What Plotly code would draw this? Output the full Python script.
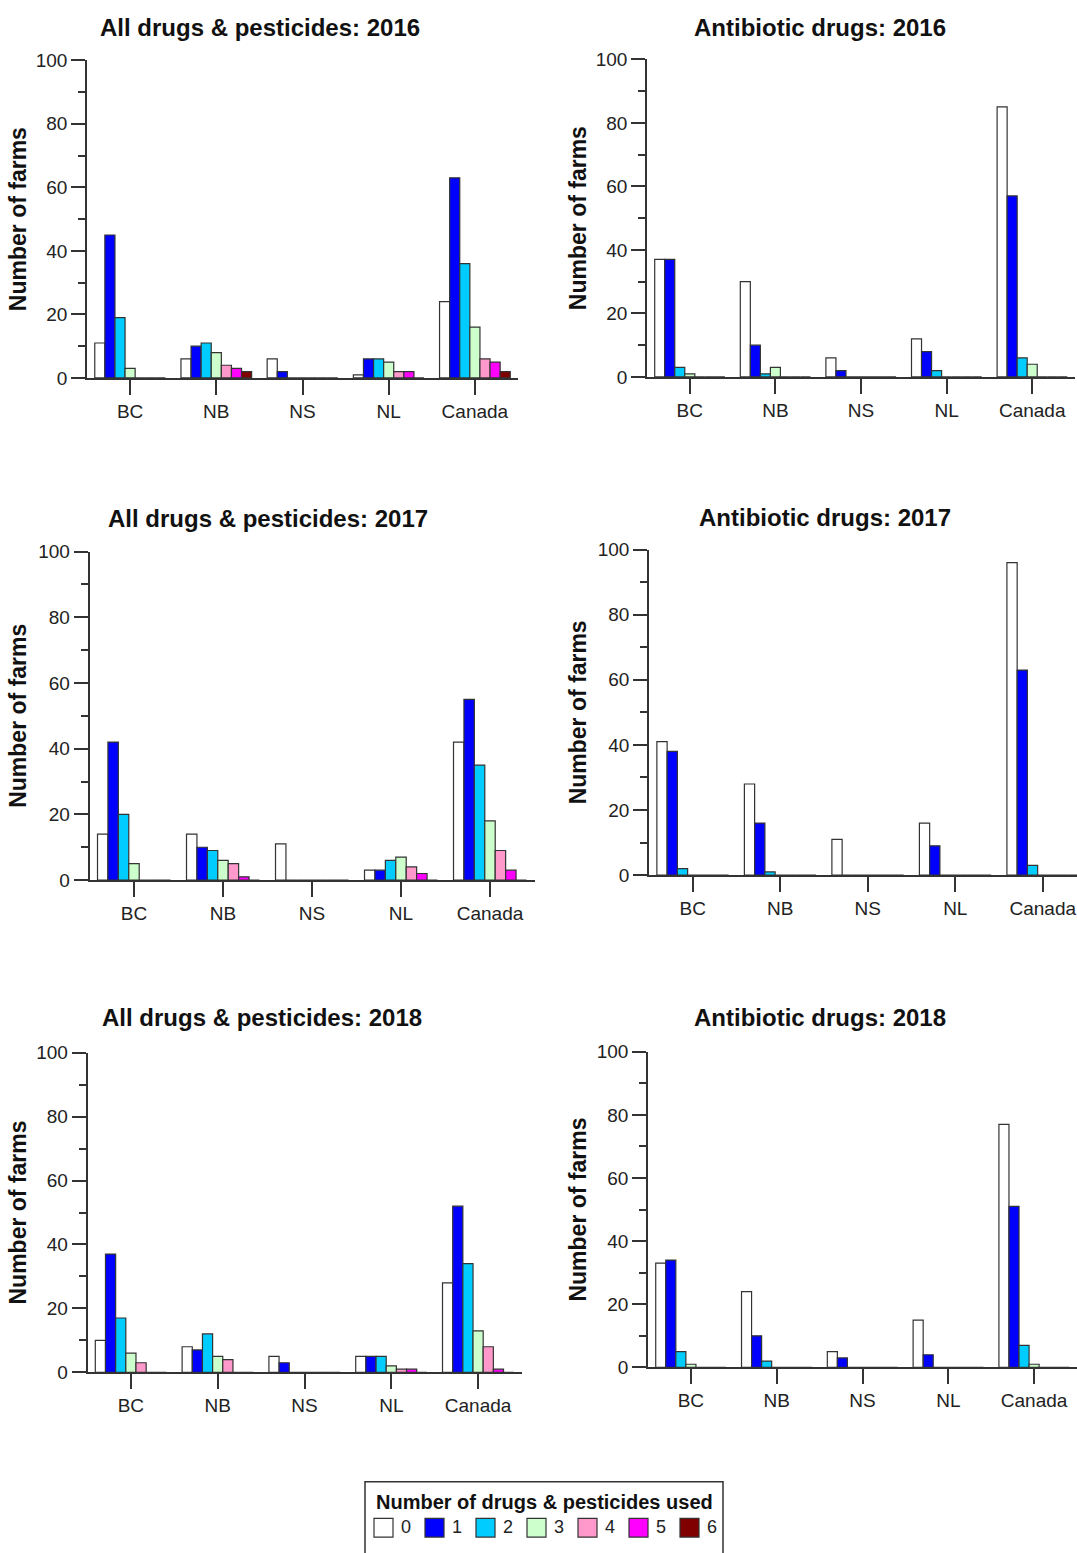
import plotly.graph_objects as go

# ---------------- data ----------------
regions = ["BC", "NB", "NS", "NL", "Canada"]
n_used = ["0", "1", "2", "3", "4", "5", "6"]
colors = ["#FFFFFF", "#0000FF", "#00CCFF", "#CCFFCC", "#FF99CC", "#FF00FF", "#800000"]

# rows = number of drugs & pesticides used (0..6); columns = regions
all_2016 = [[11, 6, 6, 1, 24], [45, 10, 2, 6, 63], [19, 11, 0, 6, 36], [3, 8, 0, 5, 16],
            [0, 4, 0, 2, 6], [0, 3, 0, 2, 5], [0, 2, 0, 0, 2]]
anti_2016 = [[37, 30, 6, 12, 85], [37, 10, 2, 8, 57], [3, 1, 0, 2, 6], [1, 3, 0, 0, 4],
             [0, 0, 0, 0, 0], [0, 0, 0, 0, 0], [0, 0, 0, 0, 0]]
all_2017 = [[14, 14, 11, 3, 42], [42, 10, 0, 3, 55], [20, 9, 0, 6, 35], [5, 6, 0, 7, 18],
            [0, 5, 0, 4, 9], [0, 1, 0, 2, 3], [0, 0, 0, 0, 0]]
anti_2017 = [[41, 28, 11, 16, 96], [38, 16, 0, 9, 63], [2, 1, 0, 0, 3], [0, 0, 0, 0, 0],
             [0, 0, 0, 0, 0], [0, 0, 0, 0, 0], [0, 0, 0, 0, 0]]
all_2018 = [[10, 8, 5, 5, 28], [37, 7, 3, 5, 52], [17, 12, 0, 5, 34], [6, 5, 0, 2, 13],
            [3, 4, 0, 1, 8], [0, 0, 0, 1, 1], [0, 0, 0, 0, 0]]
anti_2018 = [[33, 24, 5, 15, 77], [34, 10, 3, 4, 51], [5, 2, 0, 0, 7], [1, 0, 0, 0, 1],
             [0, 0, 0, 0, 0], [0, 0, 0, 0, 0], [0, 0, 0, 0, 0]]

titles = ["All drugs & pesticides: 2016", "Antibiotic drugs: 2016",
          "All drugs & pesticides: 2017", "Antibiotic drugs: 2017",
          "All drugs & pesticides: 2018", "Antibiotic drugs: 2018"]
y_title = "Number of farms"
legend_title = "Number of drugs & pesticides used"

# ---------------- layout geometry (pixels) ----------------
W, H = 1077, 1553
FONT = "Liberation Sans, Arial, sans-serif"
panels = [
    # x-domain px, y-domain px (top, bottom), x range, title centre (x, y), y-title x
    dict(data=all_2016, xd=(87, 518), yd=(51, 373), xr=(-0.5, 4.5), tc=(260, 18), ytx=18),
    dict(data=anti_2016, xd=(647, 1075), yd=(50, 372), xr=(-0.5, 4.5), tc=(820, 18), ytx=578),
    dict(data=all_2017, xd=(89.5, 534.5), yd=(549, 882), xr=(-0.5, 4.5), tc=(268, 515), ytx=18),
    dict(data=anti_2017, xd=(649, 1077), yd=(547, 877), xr=(-0.5, 4.391), tc=(825, 514), ytx=578),
    dict(data=all_2018, xd=(87.5, 521.5), yd=(1057, 1381), xr=(-0.5, 4.5), tc=(262, 1021), ytx=18),
    dict(data=anti_2018, xd=(648, 1077), yd=(1056, 1376), xr=(-0.5, 4.5), tc=(820, 1021), ytx=578),
]


def px_x(v):
    return v / W


def px_y(v):
    return 1 - v / H


fig = go.Figure()
annotations = []
shapes = []

for p_i, p in enumerate(panels):
    k = "" if p_i == 0 else str(p_i + 1)
    for s_i, name in enumerate(n_used):
        fig.add_trace(go.Bar(
            x=regions, y=p["data"][s_i], name=name,
            marker=dict(color=colors[s_i], line=dict(color="#333333", width=1.2)),
            xaxis="x" + k, yaxis="y" + k, showlegend=False, hoverinfo="x+y+name",
        ))
    fig.update_layout(**{
        "xaxis" + k: dict(
            domain=[px_x(p["xd"][0]), px_x(p["xd"][1])], anchor="y" + k,
            range=list(p["xr"]), type="category", showgrid=False, zeroline=False,
            showline=True, linecolor="#333333", linewidth=1.5,
            ticks="outside", ticklen=15, tickwidth=1.5, tickcolor="#333333",
            tickfont=dict(family=FONT, size=19, color="#222222"),
            ticklabelstandoff=0, fixedrange=True,
        ),
        "yaxis" + k: dict(
            domain=[px_y(p["yd"][1]), px_y(p["yd"][0])], anchor="x" + k,
            range=[0, 100], showgrid=False, zeroline=False,
            showline=True, linecolor="#333333", linewidth=1.5,
            tickmode="linear", tick0=0, dtick=20,
            ticks="outside", ticklen=14, tickwidth=1.5, tickcolor="#333333",
            minor=dict(dtick=10, ticks="outside", ticklen=7, tickwidth=1.5,
                       tickcolor="#333333", showgrid=False),
            tickfont=dict(family=FONT, size=19, color="#222222"),
            ticklabelstandoff=0, fixedrange=True,
        ),
    })
    annotations.append(dict(
        text="<b>%s</b>" % titles[p_i], x=px_x(p["tc"][0]), y=px_y(p["tc"][1]),
        xref="paper", yref="paper", xanchor="center", yanchor="middle",
        showarrow=False, font=dict(family=FONT, size=24, color="#111111"),
    ))
    annotations.append(dict(
        text="<b>%s</b>" % y_title, x=px_x(p["ytx"]), y=px_y((p["yd"][0] + p["yd"][1]) / 2),
        xref="paper", yref="paper", xanchor="center", yanchor="middle", textangle=-90,
        showarrow=False, font=dict(family=FONT, size=23, color="#111111"),
    ))

# ---------------- legend (drawn as layout decoration) ----------------
shapes.append(dict(type="rect", xref="paper", yref="paper",
                   x0=px_x(365), x1=px_x(723), y0=px_y(1565), y1=px_y(1492),
                   line=dict(color="#333333", width=1.5), fillcolor="rgba(0,0,0,0)"))
annotations.append(dict(
    text="<b>%s</b>" % legend_title, x=px_x(544), y=px_y(1512), xref="paper", yref="paper",
    xanchor="center", yanchor="middle", showarrow=False,
    font=dict(family=FONT, size=20, color="#111111"),
))
for s_i, name in enumerate(n_used):
    left = 374 + 51 * s_i
    shapes.append(dict(type="rect", xref="paper", yref="paper",
                       x0=px_x(left), x1=px_x(left + 19), y0=px_y(1548), y1=px_y(1529),
                       line=dict(color="#333333", width=1.2), fillcolor=colors[s_i]))
    annotations.append(dict(
        text=name, x=px_x(left + 25), y=px_y(1538), xref="paper", yref="paper",
        xanchor="left", yanchor="middle", showarrow=False,
        font=dict(family=FONT, size=18, color="#222222"),
    ))

fig.update_layout(
    width=W, height=H, margin=dict(l=0, r=0, t=0, b=0),
    paper_bgcolor="white", plot_bgcolor="white",
    barmode="group", bargap=0.18, bargroupgap=0,
    showlegend=False, annotations=annotations, shapes=shapes,
    font=dict(family=FONT),
)

fig.write_html("out.html", config={"displayModeBar": False})
